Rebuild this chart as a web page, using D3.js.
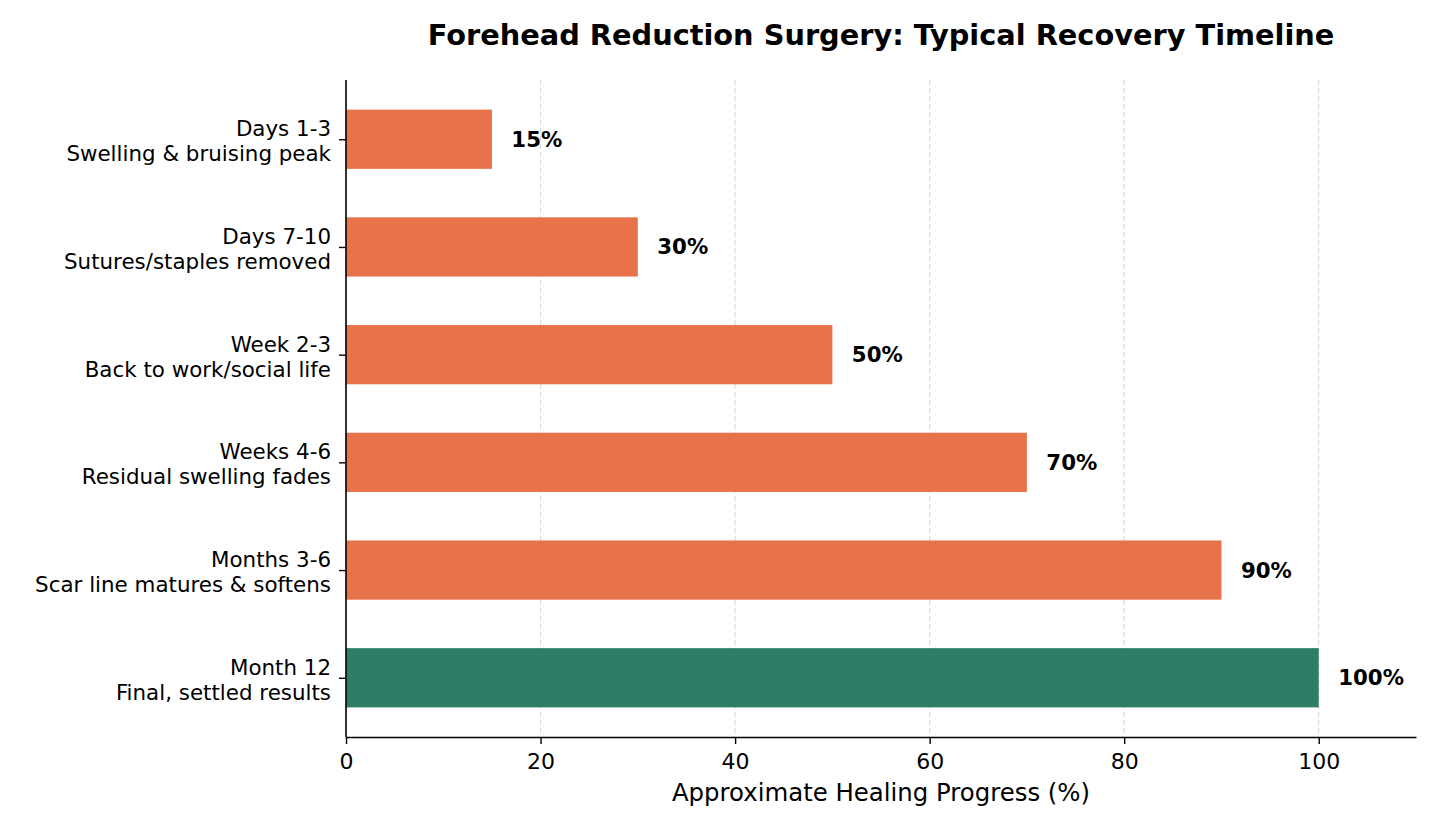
<!DOCTYPE html>
<html>
<head>
<meta charset="utf-8">
<script src="https://cdn.jsdelivr.net/npm/d3@7"></script>
<style>
  html, body { margin: 0; padding: 0; background: #fff; }
  svg { display: block; font-family: "DejaVu Sans", sans-serif; }
</style>
</head>
<body>
<svg id="chart" width="1440" height="832"></svg>
<script>
const stages = ["Days 1-3", "Days 7-10", "Week 2-3", "Weeks 4-6", "Months 3-6", "Month 12"];
const descriptions = ["Swelling & bruising peak", "Sutures/staples removed", "Back to work/social life",
  "Residual swelling fades", "Scar line matures & softens", "Final, settled results"];
const progress = [15, 30, 50, 70, 90, 100];
const xTicks = [0, 20, 40, 60, 80, 100];
const title = "Forehead Reduction Surgery: Typical Recovery Timeline";
const xLabel = "Approximate Healing Progress (%)";

const W = 1440, H = 832;
const m = { top: 80, right: 24, bottom: 95, left: 346 };
const iw = W - m.left - m.right, ih = H - m.top - m.bottom;

const svg = d3.select("#chart");
const g = svg.append("g").attr("transform", `translate(${m.left},${m.top})`);

const x = d3.scaleLinear().domain([0, 110]).range([0, iw]);
const y = d3.scaleLinear().domain([-0.55, 5.55]).range([0, ih]);
const barH = y(0.55) - y(0);

// grid
g.append("g").selectAll("line").data(xTicks).join("line")
  .attr("x1", d => x(d)).attr("x2", d => x(d))
  .attr("y1", 0).attr("y2", ih)
  .attr("stroke", "#dcdcdc").attr("stroke-width", 1.2)
  .attr("stroke-dasharray", "5,3");

// bars
g.append("g").selectAll("rect").data(progress).join("rect")
  .attr("x", x(0))
  .attr("y", (d, i) => y(i) - barH / 2)
  .attr("width", d => x(d) - x(0))
  .attr("height", barH)
  .attr("fill", (d, i) => i === progress.length - 1 ? "#2E7D67" : "#E8734A");

// value labels
g.append("g").selectAll("text").data(progress).join("text")
  .attr("x", d => x(d + 2))
  .attr("y", (d, i) => y(i))
  .attr("dominant-baseline", "central")
  .attr("font-size", 21.3).attr("font-weight", "bold").attr("fill", "#000")
  .text(d => d + "%");

// x axis
const xAxis = g.append("g").attr("transform", `translate(0,${ih})`)
  .call(d3.axisBottom(x).tickValues(xTicks).tickSize(7).tickSizeOuter(0).tickPadding(9.5).tickFormat(d3.format("d")));
xAxis.select(".domain").attr("stroke", "#000").attr("stroke-width", 1.6);
xAxis.selectAll(".tick line").attr("stroke", "#000").attr("stroke-width", 1.4);
xAxis.selectAll(".tick text").attr("font-size", 22).attr("font-family", "DejaVu Sans").attr("fill", "#000");

// y axis
const yAxis = g.append("g")
  .call(d3.axisLeft(y).tickValues(d3.range(stages.length)).tickSize(7).tickSizeOuter(0).tickFormat(() => ""));
yAxis.select(".domain").attr("d", `M0,0V${ih}`).attr("stroke", "#000").attr("stroke-width", 1.6);
yAxis.selectAll(".tick line").attr("stroke", "#000").attr("stroke-width", 1.4);
yAxis.selectAll(".tick text").remove();
const lab = yAxis.selectAll(".tick").append("text")
  .attr("x", -15).attr("text-anchor", "end")
  .attr("font-size", 21.4).attr("font-family", "DejaVu Sans").attr("fill", "#000");
lab.append("tspan").attr("x", -15).attr("y", -3.5).text((d, i) => stages[i]);
lab.append("tspan").attr("x", -15).attr("y", 21.5).text((d, i) => descriptions[i]);

// x label
svg.append("text").attr("x", m.left + iw / 2).attr("y", 801)
  .attr("text-anchor", "middle").attr("font-size", 24.4).attr("fill", "#000")
  .text(xLabel);

// title
svg.append("text").attr("x", m.left + iw / 2).attr("y", 45)
  .attr("text-anchor", "middle").attr("font-size", 28.8).attr("font-weight", "bold").attr("fill", "#000")
  .text(title);
</script>
</body>
</html>
